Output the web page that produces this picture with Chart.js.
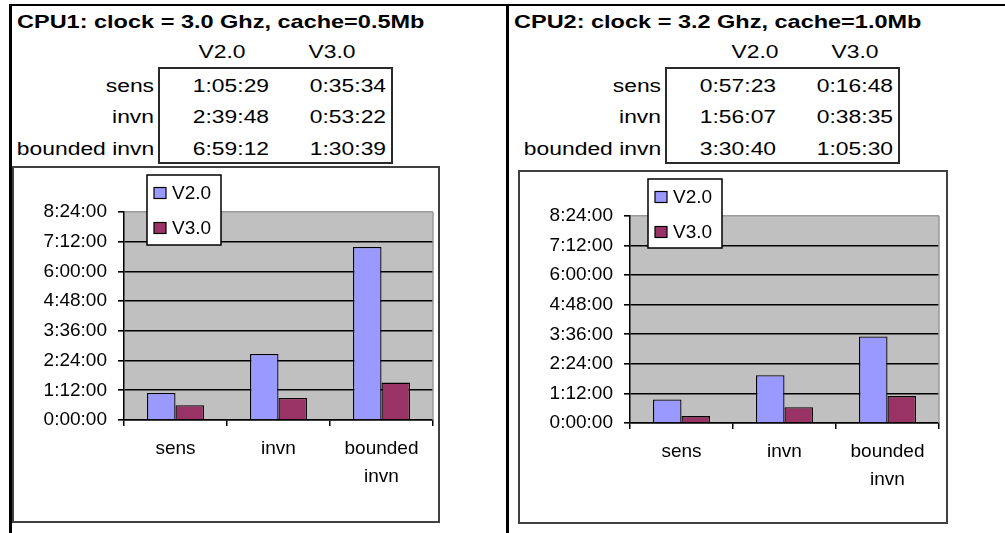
<!DOCTYPE html>
<html>
<head>
<meta charset="utf-8">
<script src="https://cdn.jsdelivr.net/npm/chart.js@4.4.1/dist/chart.umd.min.js"></script>
<style>
  html, body { margin: 0; padding: 0; background: #fff; }
  body { width: 1005px; height: 533px; position: relative; overflow: hidden;
         font-family: "Liberation Sans", Arial, sans-serif; color: #000; }
  .rule { position: absolute; background: #000; }
  .txt { position: absolute; white-space: nowrap; font-size: 18px; line-height: 18px; }
  .ttl { font-weight: bold; font-size: 18.5px; line-height: 18.5px; }
  .box { position: absolute; border: 2px solid #2a2a2a; box-sizing: border-box; }
  .chartbox { position: absolute; border: 2px solid #404040; box-sizing: border-box; background: #fff; }
  .chartbox canvas { position: absolute; left: 0; top: 0; }
</style>
</head>
<body>
<script>
// ---- data ----
const categories = ['sens', 'invn', 'bounded invn'];
const seriesNames = ['V2.0', 'V3.0'];
const cpu1Title = 'CPU1: clock = 3.0 Ghz, cache=0.5Mb';
const cpu1V20 = ['1:05:29', '2:39:48', '6:59:12'];
const cpu1V30 = ['0:35:34', '0:53:22', '1:30:39'];
const cpu2Title = 'CPU2: clock = 3.2 Ghz, cache=1.0Mb';
const cpu2V20 = ['0:57:23', '1:56:07', '3:30:40'];
const cpu2V30 = ['0:16:48', '0:38:35', '1:05:30'];
const yTickLabels = ['0:00:00', '1:12:00', '2:24:00', '3:36:00', '4:48:00', '6:00:00', '7:12:00', '8:24:00'];

// ---- styles ----
const seriesColors = ['#9999ff', '#993366'];
const FONT = 'Liberation Sans';
const STRETCH = 1.27;

function toSec(t) {
  const p = t.split(':').map(Number);
  return p[0] * 3600 + p[1] * 60 + p[2];
}

// ---- sheet layout ----
const layout = [
  { title: cpu1Title, v2: cpu1V20, v3: cpu1V30, titleX: 17,
    boxL: 158, boxR: 393, boxT: 67, boxB: 164, hdr: [222, 332],
    chart: { left: 12, top: 166, w: 428, h: 357, plotL: 110, plotR: 5, plotT: 44, plotB: 252,
             legend: { x: 133, y: 7, w: 74, h: 70 } } },
  { title: cpu2Title, v2: cpu2V20, v3: cpu2V30, titleX: 514,
    boxL: 665, boxR: 900, boxT: 67, boxB: 164, hdr: [755, 855],
    chart: { left: 518, top: 170, w: 430, h: 354, plotL: 110, plotR: 7, plotT: 44, plotB: 251,
             legend: { x: 128, y: 7, w: 74, h: 69 } } }
];
const rowBase = { title: 29, header: 58, rows: [92, 123.5, 155] };

function rule(x, y, w, h) {
  const d = document.createElement('div');
  d.className = 'rule';
  Object.assign(d.style, { left: x + 'px', top: y + 'px', width: w + 'px', height: h + 'px' });
  document.body.appendChild(d);
}

function text(str, x, baseline, align, cls) {
  const s = document.createElement('span');
  s.className = 'txt' + (cls ? ' ' + cls : '');
  s.textContent = str;
  const size = cls === 'ttl' ? 18.5 : 18;
  s.style.top = (baseline - 0.8465 * size) + 'px';
  if (align === 'left') {
    s.style.left = x + 'px';
    s.style.transformOrigin = 'left center';
    s.style.transform = 'scaleX(' + STRETCH + ')';
  } else if (align === 'right') {
    s.style.right = (1005 - x) + 'px';
    s.style.transformOrigin = 'right center';
    s.style.transform = 'scaleX(' + STRETCH + ')';
  } else {
    s.style.left = x + 'px';
    s.style.transformOrigin = 'center center';
    s.style.transform = 'translateX(-50%) scaleX(' + STRETCH + ')';
  }
  document.body.appendChild(s);
}

// sheet frame
rule(9, 4, 996, 2);
rule(9, 4, 3, 529);
rule(506, 4, 3, 529);

// background of the plot area plus its light outline
const plotBackground = {
  id: 'plotBackground',
  beforeDraw(chart) {
    const { ctx, chartArea: a } = chart;
    ctx.save();
    ctx.fillStyle = '#c0c0c0';
    ctx.fillRect(a.left, a.top, a.right - a.left, a.bottom - a.top);
    ctx.restore();
  },
  beforeDatasetsDraw(chart) {
    const { ctx, chartArea: a } = chart;
    ctx.save();
    ctx.strokeStyle = '#9a9a9a';
    ctx.lineWidth = 1.5;
    ctx.beginPath();
    ctx.moveTo(a.right, a.top);
    ctx.lineTo(a.right, a.bottom);
    ctx.stroke();
    ctx.restore();
  }
};

// boxed legend sitting over the top-left of the plot
const boxLegend = {
  id: 'boxLegend',
  afterDraw(chart, args, o) {
    const c = chart.ctx;
    c.save();
    c.fillStyle = '#fff';
    c.fillRect(o.x, o.y, o.w, o.h);
    c.strokeStyle = '#000';
    c.lineWidth = 1.5;
    c.strokeRect(o.x, o.y, o.w, o.h);
    c.font = '19px "' + FONT + '"';
    c.textBaseline = 'middle';
    chart.data.datasets.forEach((ds, i) => {
      const cy = o.y + 18 + i * 35;
      c.fillStyle = ds.backgroundColor;
      c.fillRect(o.x + 7, cy - 5.5, 12, 11);
      c.lineWidth = 1.2;
      c.strokeRect(o.x + 7, cy - 5.5, 12, 11);
      c.fillStyle = '#000';
      c.fillText(ds.label, o.x + 25, cy + 1);
    });
    c.restore();
  }
};

const yMax = toSec(yTickLabels[yTickLabels.length - 1]);

layout.forEach((p, idx) => {
  // worksheet cells
  text(p.title, p.titleX, rowBase.title, 'left', 'ttl');
  text(seriesNames[0], p.hdr[0], rowBase.header, 'center');
  text(seriesNames[1], p.hdr[1], rowBase.header, 'center');
  const box = document.createElement('div');
  box.className = 'box';
  Object.assign(box.style, { left: p.boxL + 'px', top: p.boxT + 'px',
    width: (p.boxR - p.boxL) + 'px', height: (p.boxB - p.boxT) + 'px' });
  document.body.appendChild(box);
  const colW = (p.boxR - p.boxL) / 2;
  categories.forEach((cat, r) => {
    const y = rowBase.rows[r];
    text(cat, p.boxL - 4, y, 'right');
    text(p.v2[r], p.boxL + colW - 6, y, 'right');
    text(p.v3[r], p.boxR - 7, y, 'right');
  });

  // chart object
  const g = p.chart;
  const wrap = document.createElement('div');
  wrap.className = 'chartbox';
  Object.assign(wrap.style, { left: g.left + 'px', top: g.top + 'px', width: g.w + 'px', height: g.h + 'px' });
  const cw = g.w - 4, ch = g.h - 4;
  const cv = document.createElement('canvas');
  cv.width = cw; cv.height = ch;
  cv.style.width = cw + 'px'; cv.style.height = ch + 'px';
  wrap.appendChild(cv);
  document.body.appendChild(wrap);

  const xAxisH = 70;
  new Chart(cv, {
    type: 'bar',
    data: {
      labels: categories,
      datasets: [
        { label: seriesNames[0], data: p.v2.map(toSec), backgroundColor: seriesColors[0],
          borderColor: '#000', borderWidth: 1.3 },
        { label: seriesNames[1], data: p.v3.map(toSec), backgroundColor: seriesColors[1],
          borderColor: '#000', borderWidth: 1.3 }
      ]
    },
    options: {
      responsive: false,
      animation: false,
      devicePixelRatio: 1,
      layout: { padding: { left: 0, top: g.plotT, right: g.plotR, bottom: ch - g.plotB - xAxisH } },
      datasets: { bar: { categoryPercentage: 0.553, barPercentage: 1 } },
      plugins: {
        legend: { display: false },
        tooltip: { enabled: false },
        boxLegend: g.legend
      },
      scales: {
        x: {
          grid: { offset: true, drawOnChartArea: false, drawTicks: true, tickLength: 6,
                  color: '#000', lineWidth: 1.5 },
          border: { color: '#000', width: 1.5 },
          ticks: {
            color: '#000', padding: 9, maxRotation: 0, autoSkip: false,
            font: { family: FONT, size: 19, lineHeight: 1.45 },
            callback: (v, i) => categories[i].length > 8 ? categories[i].split(' ') : categories[i]
          },
          afterFit: s => { s.height = xAxisH; }
        },
        y: {
          min: 0,
          max: yMax,
          afterBuildTicks: s => { s.ticks = yTickLabels.map(l => ({ value: toSec(l) })); },
          ticks: {
            color: '#000', padding: 11,
            font: { family: FONT, size: 19 },
            callback: (v, i) => yTickLabels[i]
          },
          grid: {
            color: c => (c.tick && c.tick.value === yMax) ? '#9a9a9a' : '#000',
            tickColor: '#000', lineWidth: 1.6, tickLength: 6
          },
          border: { color: '#000', width: 1.5 },
          afterFit: s => { s.width = g.plotL; }
        }
      }
    },
    plugins: [plotBackground, boxLegend]
  });
});
</script>
</body>
</html>
